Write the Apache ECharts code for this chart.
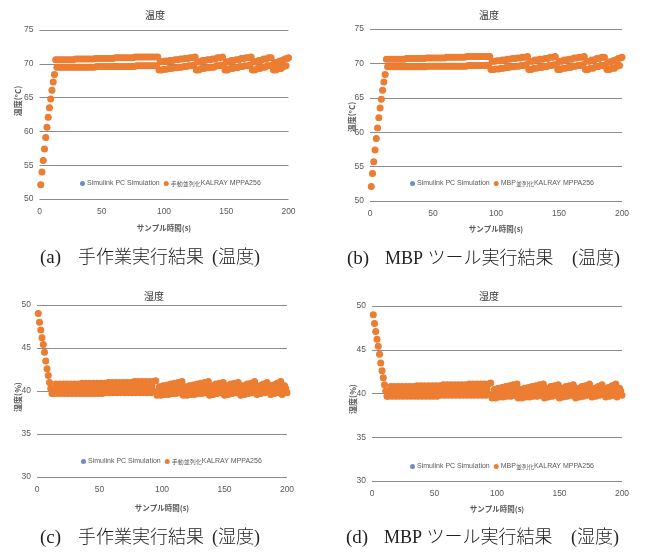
<!DOCTYPE html>
<html><head><meta charset="utf-8">
<script src="https://cdn.jsdelivr.net/npm/echarts@6/dist/echarts.min.js"></script>
<style>html,body{margin:0;padding:0;background:#fff;}#c{width:647px;height:554px;}</style>
</head><body><div id="c"></div>
<script>
// ---- data ----
const xTicks = [0, 50, 100, 150, 200];
const tempTicks = [50, 55, 60, 65, 70, 75];
const humTicks = [30, 35, 40, 45, 50];
const simName = 'Simulink PC Simulation';
const manualName = '手動並列化KALRAY MPPA256';
const mbpName = 'MBP並列化KALRAY MPPA256';
const panelTitles = ['温度', '温度', '湿度', '湿度'];
const xTitle = 'サンプル時間(s)';
const yTitles = ['温度(°C)', '温度(°C)', '湿度(%)', '湿度(%)'];
const captionLabels = ['(a)', '(b)', '(c)', '(d)'];
const captionBodies = ['手作業実行結果', 'MBP ツール実行結果', '手作業実行結果', 'MBP ツール実行結果'];
const captionTails = ['(温度)', '(温度)', '(湿度)', '(湿度)'];

// temperature (°C), samples 1..200
const temperature = [
  52.1, 54.0, 55.7, 57.4, 59.1, 60.6, 62.1, 63.5, 64.8, 66.1, 67.3, 68.4,
  70.6, 69.5, 70.6, 69.5, 70.6, 69.5, 70.6, 69.5, 70.6, 69.5, 70.6, 69.5, 70.6, 69.5, 70.6, 69.5,
  70.7, 69.5, 70.7, 69.5, 70.7, 69.5, 70.7, 69.5, 70.7, 69.5, 70.7, 69.5, 70.7, 69.5, 70.7, 69.5,
  70.8, 69.6, 70.8, 69.6, 70.8, 69.6, 70.8, 69.6, 70.8, 69.6, 70.8, 69.6, 70.8, 69.6, 70.8, 69.6,
  70.9, 69.6, 70.9, 69.6, 70.9, 69.6, 70.9, 69.6, 70.9, 69.6, 70.9, 69.6, 70.9, 69.6, 70.9, 69.6,
  71.0, 69.7, 71.0, 69.7, 71.0, 69.7, 71.0, 69.7, 71.0, 69.7, 71.0, 69.7, 71.0, 69.7, 71.0, 69.7, 71.0, 69.7,
  71.0,
  69.1, 70.3, 69.1, 70.3, 69.2, 70.4, 69.2, 70.4, 69.3, 70.5, 69.3, 70.5, 69.4, 70.6, 69.4, 70.6,
  69.5, 70.7, 69.5, 70.7, 69.6, 70.8, 69.6, 70.8, 69.7, 70.9, 69.7, 70.9, 69.8, 71.0,
  69.1, 70.3, 69.1, 70.3, 69.3, 70.5, 69.3, 70.5, 69.4, 70.6, 69.4, 70.6, 69.5, 70.7, 69.5, 70.7,
  69.7, 70.9, 69.7, 70.9, 69.8, 71.0, 69.8,
  69.1, 70.3, 69.1, 70.3, 69.3, 70.5, 69.3, 70.5, 69.4, 70.6, 69.4, 70.6, 69.6, 70.8, 69.6, 70.8,
  69.7, 70.9, 69.7, 70.9, 69.8, 71.0,
  69.1, 70.3, 69.1, 70.3, 69.3, 70.5, 69.3, 70.5, 69.5, 70.7, 69.5, 70.7, 69.7, 70.9, 69.7, 70.9, 69.8,
  69.1, 70.2, 69.1, 70.2, 69.3, 70.4, 69.3, 70.5, 69.6, 70.7, 69.7, 70.8, 70.9
];

// humidity (%), samples 1..200
const humidity = [
  49.0, 48.0, 47.1, 46.2, 45.4, 44.5, 43.5, 42.6, 41.8, 41.0, 40.3, 39.7,
  39.7, 40.2, 40.8, 39.7, 40.2, 40.8, 39.7, 40.2, 40.8, 39.7, 40.2, 40.8, 39.7, 40.2, 40.8, 39.7, 40.2, 40.8, 39.7, 40.2, 40.8,
  39.7, 40.3, 40.9, 39.7, 40.3, 40.9, 39.7, 40.3, 40.9, 39.7, 40.3, 40.9, 39.7, 40.3, 40.9, 39.7, 40.3, 40.9, 39.7, 40.3, 40.9,
  39.8, 40.4, 41.0, 39.8, 40.4, 41.0, 39.8, 40.4, 41.0, 39.8, 40.4, 41.0, 39.8, 40.4, 41.0, 39.8, 40.4, 41.0, 39.8, 40.4, 41.0,
  39.8, 40.5, 41.1, 39.8, 40.5, 41.1, 39.8, 40.5, 41.1, 39.8, 40.5, 41.1, 39.8, 40.5, 41.1, 39.8, 40.5, 41.1,
  39.9, 41.2,
  39.5, 40.0, 40.5, 39.5, 40.1, 40.6, 39.6, 40.2, 40.7, 39.6, 40.2, 40.8, 39.7, 40.3, 40.9, 39.7, 40.4, 41.0, 39.8, 40.5, 41.1,
  39.5, 40.0, 40.5, 39.5, 40.1, 40.6, 39.6, 40.2, 40.7, 39.6, 40.2, 40.8, 39.7, 40.3, 40.9, 39.7, 40.4, 41.0, 39.8, 40.5, 41.1,
  39.5, 40.0, 40.6, 39.6, 40.2, 40.8, 39.7, 40.3, 40.9, 39.8, 40.4, 41.0,
  39.5, 40.1, 40.6, 39.6, 40.2, 40.8, 39.7, 40.3, 40.9, 39.8, 40.4, 41.0, 39.8,
  39.5, 40.0, 40.6, 39.6, 40.2, 40.8, 39.7, 40.3, 40.9, 39.8, 40.5, 41.1, 39.9,
  39.6, 40.1, 40.6, 39.7, 40.3, 40.8, 39.8, 40.4, 41.0, 39.9, 40.6,
  39.6, 40.1, 40.7, 39.7, 40.3, 40.9, 39.8, 40.5, 41.1,
  39.6, 40.1, 40.6, 40.3, 39.8
];

// ---- layout / style ----
const ORANGE = '#ED7D31', BLUE = '#4472C4';
const LABEL_FONT = "'Liberation Sans','Noto Sans CJK JP',sans-serif";
const CJK_FONT = "'Noto Sans CJK JP',sans-serif";
const SERIF = "'Liberation Serif','Noto Sans CJK JP',serif";

const panels = [
  {grid: {left: 39.5, top: 30, width: 249, height: 169}, y: tempTicks, vals: temperature, name2: manualName,
   title: [155, 17], ytitle: [18, 101], xgap: 25, legend: [80, 180], cap: [40, 258]},
  {grid: {left: 370, top: 29, width: 252, height: 172}, y: tempTicks, vals: temperature, name2: mbpName,
   title: [489, 17], ytitle: [352, 117], xgap: 24, legend: [410, 180], cap: [347, 259]},
  {grid: {left: 37, top: 305, width: 250, height: 172}, y: humTicks, vals: humidity, name2: manualName,
   title: [154, 298], ytitle: [18, 397], xgap: 27, legend: [81, 458], cap: [40, 538]},
  {grid: {left: 372, top: 306, width: 250, height: 175}, y: humTicks, vals: humidity, name2: mbpName,
   title: [489, 298], ytitle: [353, 399], xgap: 24, legend: [410, 463], cap: [346, 538]}
];

const toPairs = vals => vals.map((v, i) => [i + 1, v]);
const cjkRich = name => name.replace(/([\u3000-\u9fff]+)/g, '{c|$1}');

const option = {
  animation: false,
  backgroundColor: '#fff',
  title: panels.map((p, i) => ({
    text: panelTitles[i], left: p.title[0] - 10, top: p.title[1] - 7, padding: 0,
    textStyle: {fontSize: 10, fontWeight: 'normal', color: '#333', fontFamily: CJK_FONT}
  })),
  legend: panels.map((p, i) => ({
    data: [simName, p.name2], left: p.legend[0], top: p.legend[1], padding: 0,
    itemGap: 4, itemWidth: 5, itemHeight: 5, icon: 'circle',
    formatter: cjkRich,
    textStyle: {fontSize: 7, color: '#595959', fontFamily: LABEL_FONT, padding: [0, 0, 0, -3],
      rich: {c: {fontSize: 6, color: '#595959', fontFamily: CJK_FONT}}}
  })),
  grid: panels.map(p => p.grid),
  xAxis: panels.map((p, i) => ({
    gridIndex: i, type: 'value', min: xTicks[0], max: xTicks[xTicks.length - 1],
    interval: xTicks[1] - xTicks[0],
    axisLine: {show: false}, axisTick: {show: false}, splitLine: {show: false},
    axisLabel: {fontSize: 8.5, color: '#595959', fontFamily: LABEL_FONT, margin: 8},
    name: xTitle, nameLocation: 'middle', nameGap: p.xgap,
    nameTextStyle: {fontSize: 7.5, color: '#595959', fontFamily: CJK_FONT, fontWeight: 'bold'}
  })),
  yAxis: panels.map((p, i) => ({
    gridIndex: i, type: 'value', min: p.y[0], max: p.y[p.y.length - 1], interval: p.y[1] - p.y[0],
    axisLine: {show: false}, axisTick: {show: false},
    splitLine: {show: true, lineStyle: {color: '#8c8c8c', width: 1}},
    axisLabel: {fontSize: 8.5, color: '#595959', fontFamily: LABEL_FONT, margin: 6}
  })),
  series: panels.flatMap((p, i) => [
    {type: 'scatter', name: simName, xAxisIndex: i, yAxisIndex: i, data: toPairs(p.vals),
     symbolSize: 6, itemStyle: {color: BLUE}},
    {type: 'scatter', name: p.name2, xAxisIndex: i, yAxisIndex: i, data: toPairs(p.vals),
     symbolSize: 7, itemStyle: {color: ORANGE, opacity: 1}}
  ]),
  graphic: panels.flatMap((p, i) => [
    {type: 'text', x: p.ytitle[0], y: p.ytitle[1], rotation: Math.PI / 2,
     style: {text: yTitles[i], fontSize: 8, fill: '#595959', fontFamily: CJK_FONT, fontWeight: 'bold',
       align: 'center', verticalAlign: 'middle'}},
    {type: 'text', x: p.cap[0], y: p.cap[1],
     style: {text: captionLabels[i], fontSize: 19, fill: '#222', fontFamily: SERIF,
       align: 'left', verticalAlign: 'middle'}},
    {type: 'text', x: p.cap[0] + 38, y: p.cap[1],
     style: {text: captionBodies[i], fontSize: 18, fill: '#222', fontFamily: SERIF, fontWeight: 300,
       align: 'left', verticalAlign: 'middle'}},
    {type: 'text', x: p.cap[0] + (i % 2 === 0 ? 172 : 225), y: p.cap[1],
     style: {text: captionTails[i], fontSize: 18, fill: '#222', fontFamily: SERIF, fontWeight: 300,
       align: 'left', verticalAlign: 'middle'}}
  ])
};

const chart = echarts.init(document.getElementById('c'), null, {renderer: 'canvas'});
chart.setOption(option);
</script>
</body></html>
